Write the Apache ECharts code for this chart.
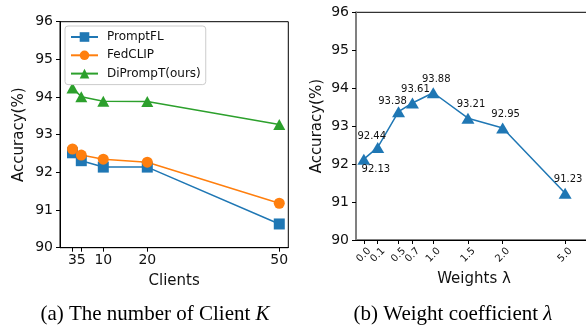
<!DOCTYPE html>
<html>
<head>
<meta charset="utf-8">
<script src="https://cdn.jsdelivr.net/npm/echarts@6/dist/echarts.min.js"></script>
<style>html,body{margin:0;padding:0;background:#fff}#c{width:586px;height:330px}</style>
</head>
<body>
<div id="c"></div>
<script>
// ---- Data: left panel (number of clients) ----
const clients = [3, 5, 10, 20, 50];
const promptFL = [92.52, 92.31, 92.14, 92.14, 90.63];
const fedCLIP = [92.62, 92.46, 92.35, 92.27, 91.18];
const diPrompT = [94.24, 94.01, 93.89, 93.88, 93.27];
const seriesNames = ['PromptFL', 'FedCLIP', 'DiPrompT(ours)'];
const yTicks = [90, 91, 92, 93, 94, 95, 96];

// ---- Data: right panel (weight coefficient lambda) ----
const lambdaLabels = ['0.0', '0.1', '0.5', '0.7', '1.0', '1.5', '2.0', '5.0'];
const lambdaPos = [0, 0.2, 0.5, 0.7, 1.0, 1.5, 2.0, 2.9];
const lambdaAcc = [92.13, 92.44, 93.38, 93.61, 93.88, 93.21, 92.95, 91.23];

const font = 'DejaVu Sans';
const txt = '#111';

function pairs(xs, ys) { return xs.map((x, i) => [x, ys[i]]); }

const rightData = lambdaPos.map((p, i) => {
  const item = { value: [p, lambdaAcc[i]] };
  if (i === 0) {
    item.label = { position: 'bottom', distance: 0, offset: [12, 0] };
  } else if (i === 1 || i === 2) {
    item.label = { distance: 0, offset: [-6, 0] };
  }
  return item;
});

const chart = echarts.init(document.getElementById('c'), null, { renderer: 'canvas' });
const yCommon = {
  type: 'value', min: 90, max: 96, interval: 1,
  splitLine: { show: false },
  axisTick: { show: true, length: 4, lineStyle: { color: '#000', width: 1 } },
  axisLabel: { fontFamily: font, fontSize: 14, color: txt, margin: 7 },
  name: 'Accuracy(%)', nameLocation: 'middle', nameRotate: 90,
  nameTextStyle: { fontFamily: font, fontSize: 15, color: txt }
};
const capStyle = { fontFamily: 'Liberation Serif', fontSize: 21, fontWeight: 'normal', color: '#000',
  rich: { i: { fontFamily: 'Liberation Serif', fontSize: 21, fontStyle: 'italic', color: '#000' } } };

chart.setOption({
  animation: false,
  backgroundColor: '#fff',
  grid: [
    { left: 60, top: 21.7, width: 228.3, height: 226, show: true, borderColor: '#000', borderWidth: 1,
      containLabel: false, outerBoundsMode: 'none' },
    { left: 356, top: 12.3, width: 236, height: 227.7, show: true, borderColor: '#000', borderWidth: 1,
      containLabel: false, outerBoundsMode: 'none' }
  ],
  legend: {
    data: seriesNames,
    orient: 'vertical', left: 65, top: 26,
    backgroundColor: '#fff', borderColor: '#ccc', borderWidth: 1, borderRadius: 3,
    padding: [5, 5, 5, 5],
    itemWidth: 27, itemHeight: 12, itemGap: 6.3,
    textStyle: { fontFamily: font, fontSize: 12, color: txt, padding: [0, 0, 0, 4] }
  },
  title: [
    { text: '(a) The number of Client {i|K}', left: 150, top: 299, textAlign: 'center', textStyle: capStyle },
    { text: '(b) Weight coefficient {i|λ}', left: 448, top: 299, textAlign: 'center', textStyle: capStyle }
  ],
  xAxis: [
    { type: 'value', gridIndex: 0, min: 0.16, max: 52.05,
      splitLine: { show: false },
      axisLine: { onZero: false, lineStyle: { color: '#000', width: 1 } },
      axisTick: { show: true, length: 4, customValues: clients, lineStyle: { color: '#000' } },
      axisLabel: { customValues: clients, fontFamily: font, fontSize: 14, color: txt, margin: 6 },
      name: 'Clients', nameLocation: 'middle', nameGap: 26,
      nameTextStyle: { fontFamily: font, fontSize: 15, color: txt } },
    { type: 'value', gridIndex: 1, min: -0.113, max: 3.287,
      splitLine: { show: false },
      axisLine: { onZero: false, lineStyle: { color: '#000', width: 1 } },
      axisTick: { show: true, length: 4, customValues: lambdaPos, lineStyle: { color: '#000' } },
      axisLabel: { customValues: lambdaPos, fontFamily: font, fontSize: 10, color: txt,
        rotate: 45, align: 'center', verticalAlign: 'middle', margin: 15,
        formatter: v => { const i = lambdaPos.findIndex(p => Math.abs(p - v) < 1e-6); return i >= 0 ? lambdaLabels[i] : ''; } },
      name: 'Weights λ', nameLocation: 'middle', nameGap: 32,
      nameTextStyle: { fontFamily: font, fontSize: 15, color: txt } }
  ],
  yAxis: [
    Object.assign({}, yCommon, { gridIndex: 0, nameGap: 33,
      axisLine: { show: true, onZero: false, lineStyle: { color: '#000', width: 1 } } }),
    Object.assign({}, yCommon, { gridIndex: 1, nameGap: 31,
      axisLine: { show: true, onZero: false, lineStyle: { color: '#808080', width: 2 } } })
  ],
  series: [
    { name: seriesNames[0], type: 'line', xAxisIndex: 0, yAxisIndex: 0, data: pairs(clients, promptFL),
      symbol: 'rect', symbolSize: 11, color: '#1f77b4', lineStyle: { width: 1.5 }, itemStyle: { color: '#1f77b4' } },
    { name: seriesNames[1], type: 'line', xAxisIndex: 0, yAxisIndex: 0, data: pairs(clients, fedCLIP),
      symbol: 'circle', symbolSize: 11, color: '#ff7f0e', lineStyle: { width: 1.5 }, itemStyle: { color: '#ff7f0e' } },
    { name: seriesNames[2], type: 'line', xAxisIndex: 0, yAxisIndex: 0, data: pairs(clients, diPrompT),
      symbol: 'triangle', symbolSize: [12, 11], color: '#2ca02c', lineStyle: { width: 1.5 }, itemStyle: { color: '#2ca02c' } },
    { name: 'lambda', type: 'line', xAxisIndex: 1, yAxisIndex: 1, data: rightData,
      symbol: 'triangle', symbolSize: [13, 11], color: '#1f77b4', lineStyle: { width: 1.5 }, itemStyle: { color: '#1f77b4' },
      label: { show: true, position: 'top', distance: 3, offset: [3, 0], fontFamily: font, fontSize: 10, color: txt,
        formatter: p => p.value[1].toFixed(2) } }
  ]
});
</script>
</body>
</html>
